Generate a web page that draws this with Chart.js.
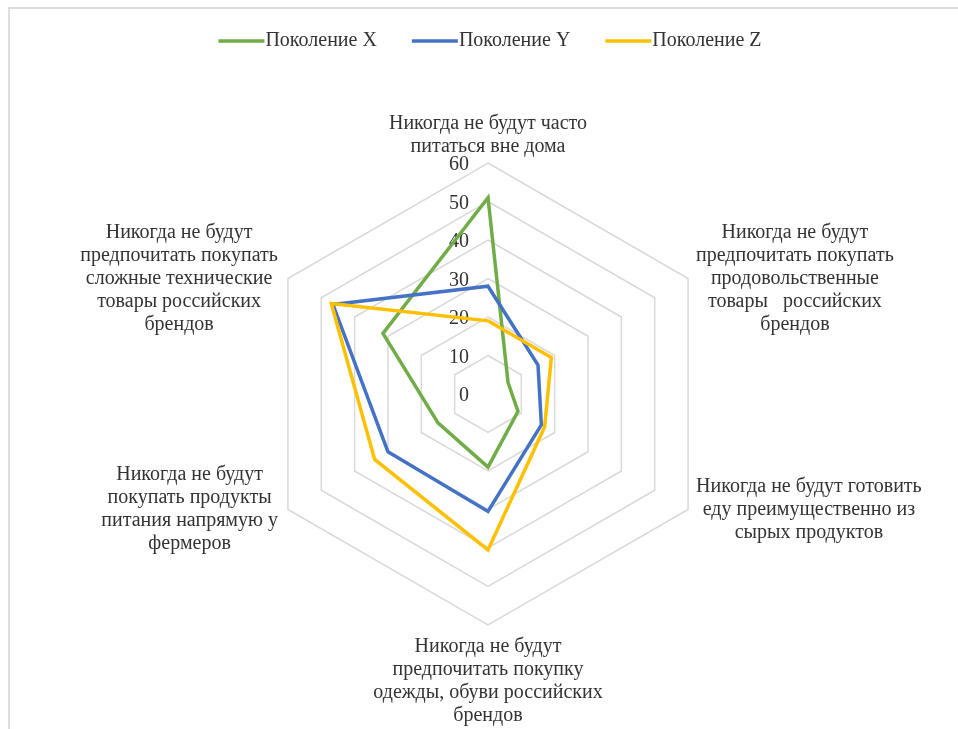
<!DOCTYPE html>
<html lang="ru">
<head>
<meta charset="utf-8">
<title>Поколения X, Y, Z</title>
<script src="https://cdn.jsdelivr.net/npm/chart.js@4.4.1/dist/chart.umd.min.js"></script>
<style>
html, body { margin: 0; padding: 0; background: #fff; }
#wrap { width: 958px; height: 729px; }
</style>
</head>
<body>
<div id="wrap"><canvas id="radarChart" width="958" height="729"></canvas></div>
<script>
'use strict';

// axis names, clockwise from the top
var categories = [
    ['Никогда не будут часто', 'питаться вне дома'],
    ['Никогда не будут', 'предпочитать покупать', 'продовольственные', 'товары   российских', 'брендов'],
    ['Никогда не будут готовить', 'еду преимущественно из', 'сырых продуктов'],
    ['Никогда не будут', 'предпочитать покупку', 'одежды, обуви российских', 'брендов'],
    ['Никогда не будут', 'покупать продукты', 'питания напрямую у', 'фермеров'],
    ['Никогда не будут', 'предпочитать покупать', 'сложные технические', 'товары российских', 'брендов']
];
var seriesNames = ['Поколение X', 'Поколение Y', 'Поколение Z'];
var genX = [51, 6, 9, 19, 15, 31.5];
var genY = [28, 15, 16, 30.5, 30, 46.5];
var genZ = [19, 19, 17, 40.5, 34, 47];
var tickMin = 0, tickMax = 60, tickStep = 10;

var seriesColors = ['#70ad47', '#4472c4', '#ffc000'];
var FONT = '20px "Liberation Serif", "Times New Roman", serif';
var TEXT_COLOR = '#333333';
var LINE_H = 23;

function drawFrame(chart) {
    var ctx = chart.ctx;
    ctx.save();
    ctx.strokeStyle = '#dedede';
    ctx.lineWidth = 2;
    ctx.beginPath();
    ctx.moveTo(9, chart.height);
    ctx.lineTo(9, 8);
    ctx.lineTo(chart.width, 8);
    ctx.stroke();
    ctx.restore();
}

// value labels sit just left of the vertical axis
function drawTickLabels(chart) {
    var s = chart.scales.r, ctx = chart.ctx;
    ctx.save();
    ctx.font = FONT;
    ctx.fillStyle = TEXT_COLOR;
    ctx.textAlign = 'right';
    ctx.textBaseline = 'middle';
    s.ticks.forEach(function(t) {
        var d = s.getDistanceFromCenterForValue(t.value);
        ctx.fillText(t.label, s.xCenter - 19, s.yCenter - d + 2);
    });
    ctx.restore();
}

// wrapped category names, lines centred inside each block
function drawPointLabels(chart) {
    var s = chart.scales.r, ctx = chart.ctx;
    ctx.save();
    ctx.font = FONT;
    ctx.fillStyle = TEXT_COLOR;
    ctx.textAlign = 'center';
    ctx.textBaseline = 'middle';
    chart.data.labels.forEach(function(lines, i) {
        var p = s.getPointPosition(i, s.drawingArea);
        var w = 0;
        lines.forEach(function(l) { w = Math.max(w, ctx.measureText(l).width); });
        var h = lines.length * LINE_H;
        var dx = p.x - s.xCenter;
        var cx, top;
        if (Math.abs(dx) < 1) {
            cx = p.x;
            top = p.y < s.yCenter ? p.y - 5 - h : p.y + 10;
        } else {
            cx = dx > 0 ? p.x + 8 + w / 2 : p.x - 10 - w / 2;
            top = p.y - h / 2;
        }
        lines.forEach(function(l, k) {
            ctx.fillText(l, cx, top + LINE_H * (k + 0.5));
        });
    });
    ctx.restore();
}

function drawLegend(chart) {
    var s = chart.scales.r, ctx = chart.ctx;
    var lineLen = 46, gap = 1, itemGap = 35, y = 41;
    ctx.save();
    ctx.font = FONT;
    var items = chart.data.datasets.map(function(ds) {
        return { text: ds.label, color: ds.borderColor, w: ctx.measureText(ds.label).width };
    });
    var total = itemGap * (items.length - 1);
    items.forEach(function(it) { total += lineLen + gap + it.w; });
    var x = s.xCenter - total / 2 + 2;
    ctx.textAlign = 'left';
    ctx.textBaseline = 'middle';
    items.forEach(function(it) {
        ctx.strokeStyle = it.color;
        ctx.lineWidth = 3.5;
        ctx.beginPath();
        ctx.moveTo(x, y);
        ctx.lineTo(x + lineLen, y);
        ctx.stroke();
        ctx.fillStyle = TEXT_COLOR;
        ctx.fillText(it.text, x + lineLen + gap, y);
        x += lineLen + gap + it.w + itemGap;
    });
    ctx.restore();
}

var radarExtras = {
    id: 'radarExtras',
    beforeDraw: function(chart) { drawFrame(chart); },
    beforeDatasetsDraw: function(chart) { drawTickLabels(chart); },
    afterDraw: function(chart) {
        drawPointLabels(chart);
        drawLegend(chart);
    }
};

var seriesValues = [genX, genY, genZ];

new Chart(document.getElementById('radarChart').getContext('2d'), {
    type: 'radar',
    data: {
        labels: categories,
        datasets: seriesNames.map(function(name, i) {
            return {
                label: name,
                data: seriesValues[i],
                borderColor: seriesColors[i],
                backgroundColor: seriesColors[i],
                borderWidth: 3.5,
                fill: false,
                tension: 0,
                pointRadius: 0,
                pointHoverRadius: 0,
                // later series are painted on top
                order: seriesNames.length - i
            };
        })
    },
    options: {
        responsive: false,
        animation: false,
        devicePixelRatio: 1,
        layout: { padding: { top: 163, bottom: 103, left: 120, right: 101 } },
        plugins: {
            legend: { display: false },
            tooltip: { enabled: false }
        },
        scales: {
            r: {
                min: tickMin,
                max: tickMax,
                ticks: { display: false, stepSize: tickStep },
                grid: { color: '#d9d9d9', lineWidth: 1.5 },
                angleLines: { display: false },
                pointLabels: { display: false }
            }
        }
    },
    plugins: [radarExtras]
});
</script>
</body>
</html>
